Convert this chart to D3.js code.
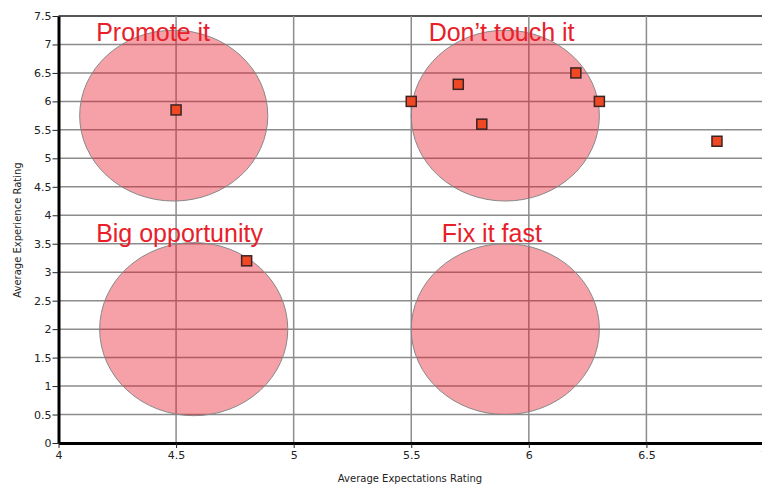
<!DOCTYPE html>
<html>
<head>
<meta charset="utf-8">
<script src="https://cdn.jsdelivr.net/npm/d3@7"></script>
<style>
  body { margin: 0; background: #fff; }
  svg { display: block; }
</style>
</head>
<body>
<svg class="quadViz" width="762" height="486"></svg>
<script>
// scatter points
const expectations = [4.5, 5.5, 5.7, 5.8, 6.2, 6.3, 6.8, 4.8];
const experience   = [5.85, 6.0, 6.3, 5.6, 6.5, 6.0, 5.3, 3.2];

// quadrant zones
const zoneNames = ['Promote it', 'Don\u2019t touch it', 'Big opportunity', 'Fix it fast'];
const zoneCx = [4.49, 5.9, 4.575, 5.9];
const zoneCy = [5.75, 5.75, 2.0, 2.0];
const zoneRx = [0.4, 0.4, 0.4, 0.4];
const zoneRy = [1.5, 1.5, 1.52, 1.5];
const labelX = [4.16, 5.574, 4.16, 5.63];
const labelY = [7.06, 7.06, 3.53, 3.53];

const xTicks = [4, 4.5, 5, 5.5, 6, 6.5, 7];
const yTicks = d3.range(0, 7.51, 0.5);

const svg = d3.select('svg.quadViz');

const x = d3.scaleLinear().domain([4, 7]).range([58.5, 764]);
const y = d3.scaleLinear().domain([0, 7.5]).range([443, 16]);

// grid
const grid = svg.append('g').attr('class', 'grid');
grid.selectAll('line.h')
    .data(yTicks.filter(d => d > 0))
    .enter()
    .append('line')
    .attr('x1', x(4)).attr('x2', 762)
    .attr('y1', d => y(d)).attr('y2', d => y(d))
    .style('stroke', d => d == 7.5 ? '#555' : '#8c8c8c')
    .style('stroke-width', d => d == 7.5 ? 2 : 1.5);
grid.selectAll('line.v')
    .data(xTicks.filter(d => d > 4))
    .enter()
    .append('line')
    .attr('x1', d => x(d)).attr('x2', d => x(d))
    .attr('y1', y(7.5)).attr('y2', y(0))
    .style('stroke', '#8c8c8c')
    .style('stroke-width', 1.5);

// zones
svg.append('g').selectAll('ellipse')
    .data(zoneNames)
    .enter()
    .append('ellipse')
    .attr('cx', (d, i) => x(zoneCx[i]))
    .attr('cy', (d, i) => y(zoneCy[i]))
    .attr('rx', (d, i) => x(4 + zoneRx[i]) - x(4))
    .attr('ry', (d, i) => y(0) - y(zoneRy[i]))
    .style('fill', 'rgb(230,20,35)')
    .style('fill-opacity', 0.4)
    .style('stroke', '#888')
    .style('stroke-width', 1);

// axes
const yAxis = svg.append('g')
    .attr('transform', `translate(${x(4)},0)`)
    .call(d3.axisLeft(y).tickValues(yTicks).tickSize(6).tickSizeOuter(0).tickFormat(d3.format('')));
const xAxis = svg.append('g')
    .attr('transform', `translate(0,${y(0)})`)
    .call(d3.axisBottom(x).tickValues(xTicks).tickSize(5).tickSizeOuter(0).tickFormat(d3.format('')));

[yAxis, xAxis].forEach(a => {
  a.select('.domain').style('stroke', '#000').style('stroke-width', 3);
  a.selectAll('.tick line').style('stroke', '#222');
  a.selectAll('.tick text')
   .style('font-family', 'DejaVu Sans, Verdana, sans-serif')
   .style('font-size', '11px')
   .style('fill', '#222');
});
yAxis.selectAll('.tick text').attr('x', -7);
xAxis.selectAll('.tick text').attr('y', 8);

// points
svg.append('g').selectAll('rect.pt')
    .data(expectations)
    .enter()
    .append('rect')
    .attr('class', 'pt')
    .attr('x', (d, i) => x(d) - 5)
    .attr('y', (d, i) => y(experience[i]) - 5)
    .attr('width', 10)
    .attr('height', 10)
    .style('fill', '#f04823')
    .style('stroke', '#3a2424')
    .style('stroke-width', 1.5);

// zone labels
svg.append('g').selectAll('text.zone')
    .data(zoneNames)
    .enter()
    .append('text')
    .attr('x', (d, i) => x(labelX[i]))
    .attr('y', (d, i) => y(labelY[i]))
    .text(d => d)
    .style('fill', '#e8202a')
    .style('font-family', 'Liberation Sans, Arial, sans-serif')
    .style('font-size', '25px');

// axis titles
svg.append('text')
    .attr('x', 410).attr('y', 482)
    .attr('text-anchor', 'middle')
    .text('Average Expectations Rating')
    .style('font-family', 'DejaVu Sans, Verdana, sans-serif')
    .style('font-size', '10px')
    .style('fill', '#222');
svg.append('text')
    .attr('transform', 'translate(21,230) rotate(-90)')
    .attr('text-anchor', 'middle')
    .text('Average Experience Rating')
    .style('font-family', 'DejaVu Sans, Verdana, sans-serif')
    .style('font-size', '10px')
    .style('fill', '#222');
</script>
</body>
</html>
